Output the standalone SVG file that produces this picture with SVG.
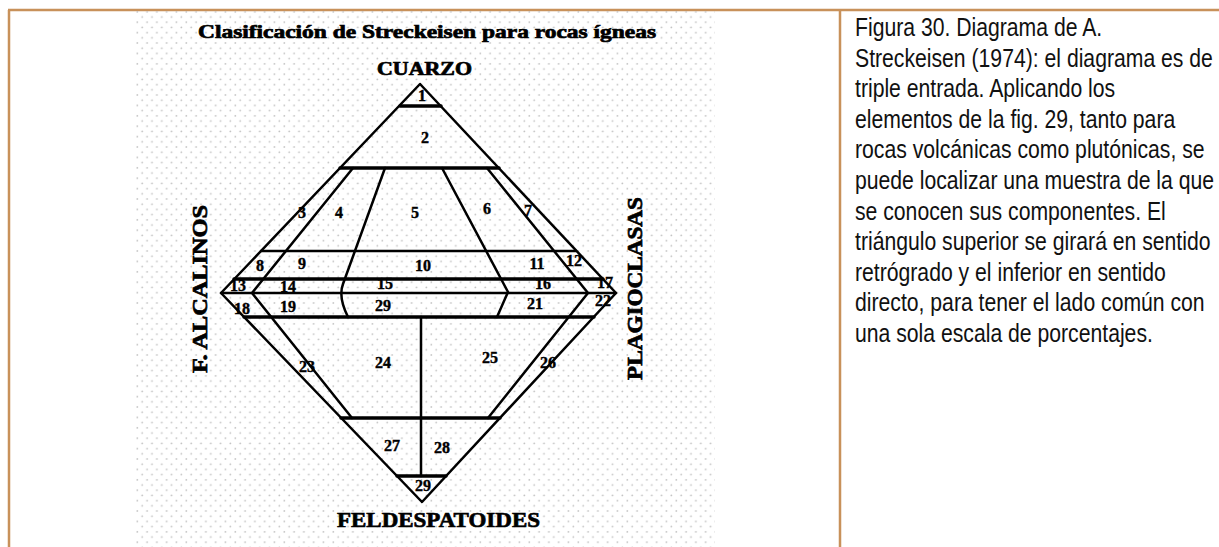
<svg xmlns="http://www.w3.org/2000/svg" width="1219" height="547" viewBox="0 0 1219 547">
<defs>
<pattern id="dots" x="135" y="10" width="9.8" height="10.4" patternUnits="userSpaceOnUse">
<circle cx="2.3" cy="1.8" r="0.9" fill="#c2c2c2"/>
<circle cx="7.2" cy="7" r="0.9" fill="#c2c2c2"/>
</pattern>
</defs>
<style>
.b{stroke:#c8915a;stroke-width:2.5;fill:none}
.ln{stroke:#000;stroke-width:2.5;fill:none;stroke-linecap:round;stroke-linejoin:round}
.thk{stroke-width:3.4}
.n{font-family:"Liberation Serif","DejaVu Serif",serif;font-weight:bold;font-size:16px;text-anchor:middle;fill:#000;stroke:#000;stroke-width:0.4}
.hd{font-family:"Liberation Serif","DejaVu Serif",serif;font-weight:bold;fill:#000;stroke:#000;stroke-width:0.7}
.cap{font-family:"Liberation Sans",Arial,sans-serif;font-size:26px;fill:#111}
</style>
<rect width="1219" height="547" fill="#fff"/>
<g id="table">
<line x1="8" y1="10" x2="1219" y2="10" class="b"/>
<line x1="9" y1="10" x2="9" y2="547" class="b"/>
<line x1="840" y1="10" x2="840" y2="547" class="b"/>
</g>
<g id="figure">
<rect x="135" y="10.5" width="580" height="537" fill="url(#dots)"/>
<text class="hd" x="198" y="38" font-size="18" textLength="458" lengthAdjust="spacingAndGlyphs">Clasificación de Streckeisen para rocas ígneas</text>
<text class="hd" x="377" y="75" font-size="18" textLength="95" lengthAdjust="spacingAndGlyphs">CUARZO</text>
<text class="hd" x="337" y="527" font-size="22" textLength="203" lengthAdjust="spacingAndGlyphs">FELDESPATOIDES</text>
<text class="hd" font-size="21" transform="translate(207,373) rotate(-90)" textLength="168" lengthAdjust="spacingAndGlyphs">F. ALCALINOS</text>
<text class="hd" font-size="22" transform="translate(642,380) rotate(-90)" textLength="183" lengthAdjust="spacingAndGlyphs">PLAGIOCLASAS</text>
</g>
<g id="connectors">
<polygon class="ln" points="420,84 616,293 422,502 221,293"/>
<line class="ln thk" x1="400" y1="106" x2="441" y2="106"/>
<line class="ln thk" x1="340" y1="168" x2="499" y2="168"/>
<line class="ln" x1="261" y1="251" x2="576" y2="251"/>
<line class="ln thk" x1="234" y1="279" x2="603" y2="279"/>
<line class="ln" x1="221" y1="293" x2="616" y2="293"/>
<line class="ln thk" x1="244" y1="317" x2="594" y2="317"/>
<line class="ln thk" x1="341" y1="418" x2="500" y2="418"/>
<line class="ln thk" x1="397" y1="476" x2="446" y2="476"/>
<polyline class="ln" points="353,168 252,293 352,418"/>
<polyline class="ln" points="487,168 588,293 488,418"/>
<path class="ln" d="M385,168 L343,284 Q338,297 348,317"/>
<polyline class="ln" points="442,168 508,292 497,317"/>
<line class="ln" x1="421" y1="317" x2="421" y2="476"/>
</g>
<g id="labels">
<text class="n" x="422" y="101" font-size="13">1</text>
<text class="n" x="425" y="143">2</text>
<text class="n" x="302" y="218">3</text>
<text class="n" x="339" y="218">4</text>
<text class="n" x="415" y="218">5</text>
<text class="n" x="487" y="214">6</text>
<text class="n" x="528" y="216">7</text>
<text class="n" x="260" y="271">8</text>
<text class="n" x="302" y="269">9</text>
<text class="n" x="423" y="271">10</text>
<text class="n" x="537" y="269">11</text>
<text class="n" x="574" y="266">12</text>
<text class="n" x="238" y="291" font-size="14">13</text>
<text class="n" x="288" y="292" font-size="14">14</text>
<text class="n" x="385" y="289" font-size="14">15</text>
<text class="n" x="543" y="289" font-size="14">16</text>
<text class="n" x="605" y="288" font-size="14">17</text>
<text class="n" x="242" y="314" font-size="14">18</text>
<text class="n" x="288" y="312" font-size="14">19</text>
<text class="n" x="383" y="311" font-size="14">29</text>
<text class="n" x="535" y="309" font-size="14">21</text>
<text class="n" x="603" y="306" font-size="14">22</text>
<text class="n" x="307" y="372">23</text>
<text class="n" x="383" y="368">24</text>
<text class="n" x="490" y="363">25</text>
<text class="n" x="548" y="368">26</text>
<text class="n" x="392" y="451">27</text>
<text class="n" x="442" y="453">28</text>
<text class="n" x="423" y="491" font-size="12">29</text>
</g>
<g id="caption" transform="translate(855,0) scale(0.815,1)">
<text class="cap" x="0" y="36">Figura 30. Diagrama de A.</text>
<text class="cap" x="0" y="66.6">Streckeisen (1974): el diagrama es de</text>
<text class="cap" x="0" y="97.2">triple entrada. Aplicando los</text>
<text class="cap" x="0" y="127.8">elementos de la fig. 29, tanto para</text>
<text class="cap" x="0" y="158.4">rocas volcánicas como plutónicas, se</text>
<text class="cap" x="0" y="189">puede localizar una muestra de la que</text>
<text class="cap" x="0" y="219.6">se conocen sus componentes. El</text>
<text class="cap" x="0" y="250.2">triángulo superior se girará en sentido</text>
<text class="cap" x="0" y="280.8">retrógrado y el inferior en sentido</text>
<text class="cap" x="0" y="311.4">directo, para tener el lado común con</text>
<text class="cap" x="0" y="342">una sola escala de porcentajes.</text>
</g>
</svg>
